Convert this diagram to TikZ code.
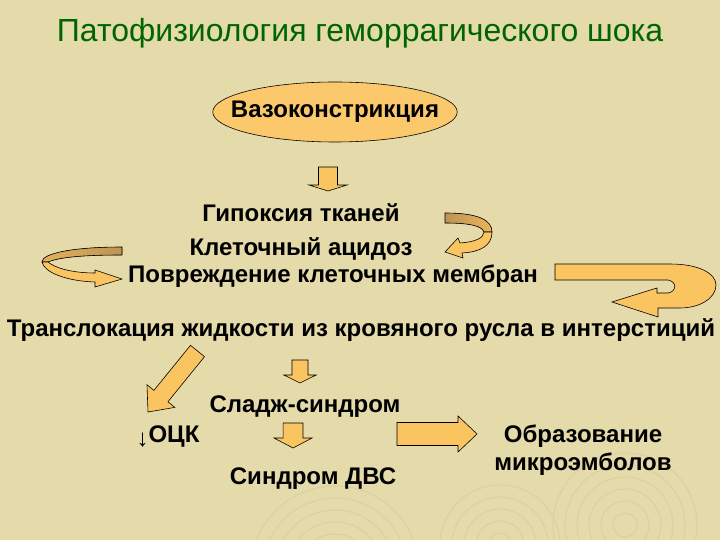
\documentclass[tikz,border=0pt]{standalone}
\usepackage{fontspec}
\setmainfont{Liberation Sans}
\usetikzlibrary{calc,shapes.geometric}

\definecolor{slideBg}{RGB}{228,218,170}
\definecolor{ringLine}{RGB}{220,209,162}
\definecolor{titleGreen}{RGB}{0,100,0}
\definecolor{arrowFill}{RGB}{250,196,96}
\definecolor{arrowBack}{RGB}{190,148,84}
\definecolor{ovalFill}{RGB}{251,200,108}

\tikzset{
  txt/.style={font=\bfseries\fontsize{20.5}{24}\selectfont,inner sep=0pt},
  outline/.style={draw=black,line width=0.5pt,line join=miter},
  blockarrow/.style n args={3}{outline,fill=arrowFill,
    to path={($(\tikztostart)!#1!90:(\tikztotarget)$)
      -- ($($(\tikztotarget)!#3!(\tikztostart)$)!#1!-90:(\tikztostart)$)
      -- ($($(\tikztotarget)!#3!(\tikztostart)$)!#2!-90:(\tikztostart)$)
      -- (\tikztotarget)
      -- ($($(\tikztotarget)!#3!(\tikztostart)$)!#2!90:(\tikztostart)$)
      -- ($($(\tikztotarget)!#3!(\tikztostart)$)!#1!90:(\tikztostart)$)
      -- ($(\tikztostart)!#1!-90:(\tikztotarget)$) -- cycle}}
}

\begin{document}
\begin{tikzpicture}[x=0.03cm,y=-0.03cm]
    \useasboundingbox (0,0) rectangle (720,540);
    \fill[slideBg] (0,0) rectangle (720,540);

    \begin{scope}
        \clip (0,0) rectangle (720,540);
        \foreach \cx/\cy/\rmax in {335/570/84,500/545/60,625/525/72}{
                \foreach \r in {12,24,...,\rmax}{
                        \draw[ringLine,line width=1pt] (\cx,\cy) circle (\r);
                    }
            }
    \end{scope}

    \node[font=\fontsize{27.3}{32}\selectfont,text=titleGreen] (title) at (360,33) {Патофизиология геморрагического шока};

    \node[ellipse,outline,fill=ovalFill,txt,inner xsep=-15pt,inner ysep=-6pt,
        minimum width=7.2cm,minimum height=1.8cm] (vaso) at (335,112) {Вазоконстрикция};

    \node[txt] (hyp) at (301,213) {Гипоксия тканей};
    \node[txt] (acid) at (301,249) {Клеточный ацидоз};
    \node[txt] (membr) at (333,276) {Повреждение клеточных мембран};
    \node[txt] (trans) at (361,330) {Транслокация жидкости из кровяного русла в интерстиций};
    \node[txt] (sludge) at (305,407) {Сладж-синдром};
    \node[txt] (ocz) at (168,437) {\raisebox{-3pt}{\mdseries↓}ОЦК};
    \node[txt] (dvs) at (313,479) {Синдром ДВС};
    \node[txt,align=center] (emb) at (583,450) {Образование\\микроэмболов};

    \coordinate (a1s) at (328,167);
    \coordinate (a1t) at (328,191);
    \coordinate (a2s) at (300,360);
    \coordinate (a2t) at (300,383);
    \coordinate (a3s) at (293,423);
    \coordinate (a3t) at (293,448);
    \coordinate (a4s) at (197.5,351);
    \coordinate (a4t) at (148,412);
    \coordinate (a5s) at (397,434);
    \coordinate (a5t) at (477,434);

    \draw[blockarrow={8.1pt}{16.2pt}{5.1pt}] (a1s) to (a1t);
    \draw[blockarrow={6.8pt}{13.7pt}{6.8pt}] (a2s) to (a2t);
    \draw[blockarrow={8.5pt}{16.2pt}{8.5pt}] (a3s) to (a3t);
    \draw[blockarrow={7.7pt}{15.3pt}{17.5pt}] (a4s) to (a4t);
    \draw[blockarrow={9.8pt}{15.4pt}{16.2pt}] (a5s) to (a5t);

    % left curl
    \filldraw[outline,left color=arrowFill!60!arrowBack,right color=arrowBack]
    (122,247) .. controls (75,247) and (42,253) .. (42,262) -- (48,262)
    .. controls (60,257) and (85,255) .. (122,255) -- cycle;
    \filldraw[outline,fill=arrowFill]
    (42,262) .. controls (44,272) and (65,281) .. (95,282) -- (95,287) -- (122,279)
    -- (95,270) -- (95,273) .. controls (72,273) and (55,268) .. (48,262) -- cycle;

    % right small curl
    \filldraw[outline,left color=arrowBack,right color=arrowFill!70!arrowBack]
    (445,213) .. controls (478,213) and (492,220) .. (492,232) -- (484,232)
    .. controls (482,226) and (470,223) .. (445,223) -- cycle;
    \filldraw[outline,fill=arrowFill]
    (492,232) .. controls (492,246) and (480,252) .. (462,253) -- (463,258) -- (445,252)
    -- (458,238) -- (460,243) .. controls (475,242) and (484,238) .. (484,232) -- cycle;

    % big right curl
    \filldraw[outline,fill=arrowFill]
    (555,264) -- (670,264) .. controls (700,264) and (716,274) .. (716,285)
    .. controls (716,298) and (700,308) .. (680,308) -- (658,308) -- (658,317)
    -- (612,302) -- (657,288) -- (657,293) -- (668,293)
    .. controls (676,292) and (678,282) .. (668,280) -- (555,280) -- cycle;
\end{tikzpicture}
\end{document}
